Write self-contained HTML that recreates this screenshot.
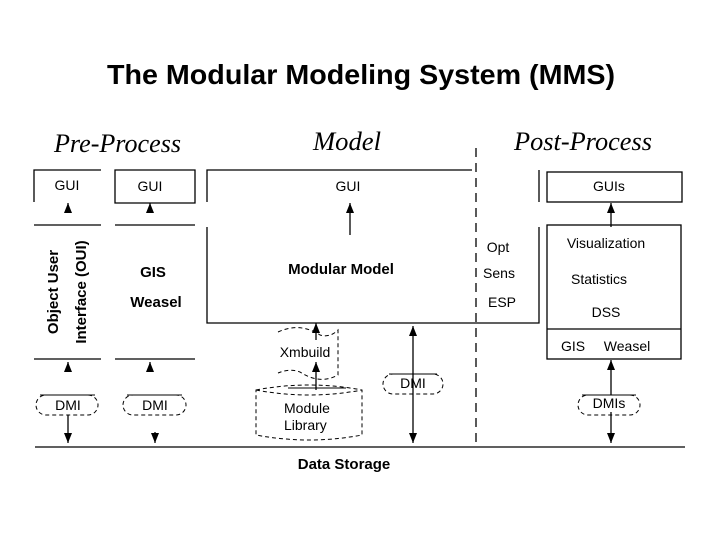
<!DOCTYPE html>
<html><head><meta charset="utf-8"><style>body{margin:0;background:#fff}svg{display:block}</style></head><body>
<svg width="720" height="540" viewBox="0 0 720 540" xmlns="http://www.w3.org/2000/svg" font-family="Liberation Sans, sans-serif">
<defs>
<marker id="a" markerWidth="10" markerHeight="8" refX="10" refY="4" orient="auto-start-reverse" markerUnits="userSpaceOnUse" viewBox="0 0 10 8"><path d="M0,0 L10,4 L0,8 Z" fill="#000"/></marker>
</defs>
<rect width="720" height="540" fill="#fff"/>
<text x="361" y="84" font-size="28" font-weight="bold" text-anchor="middle" textLength="508" lengthAdjust="spacingAndGlyphs">The Modular Modeling System (MMS)</text>
<g font-family="Liberation Serif, serif" font-style="italic" font-size="26">
<text x="54" y="152" textLength="127" lengthAdjust="spacingAndGlyphs">Pre-Process</text>
<text x="313" y="150" textLength="68" lengthAdjust="spacingAndGlyphs">Model</text>
<text x="514" y="150" textLength="138" lengthAdjust="spacingAndGlyphs">Post-Process</text>
</g>
<g stroke="#000" stroke-width="1.3" fill="none">
<path d="M34,202 V170 H101"/>
<path d="M115,170 H195 V203 H115 Z"/>
<path d="M34,225 H101 M115,225 H195 M34,359 H101 M115,359 H195"/>
<path d="M207,202 V170 H472"/>
<path d="M539,170 V202"/>
<path d="M207,227 V323 H539 V227"/>
<line x1="476" y1="148" x2="476" y2="447" stroke-dasharray="9,6"/>
<rect x="547" y="172" width="135" height="30"/>
<rect x="547" y="225" width="134" height="134"/>
<line x1="547" y1="329" x2="681" y2="329"/>
<line x1="35" y1="447" x2="685" y2="447"/>
<line x1="68" y1="213" x2="68" y2="203" marker-end="url(#a)"/>
<line x1="150" y1="213" x2="150" y2="203" marker-end="url(#a)"/>
<line x1="68" y1="372" x2="68" y2="362" marker-end="url(#a)"/>
<line x1="150" y1="372" x2="150" y2="362" marker-end="url(#a)"/>
<line x1="68" y1="415" x2="68" y2="443" marker-end="url(#a)"/>
<line x1="155" y1="432" x2="155" y2="443" marker-end="url(#a)"/>
<line x1="350" y1="235" x2="350" y2="203" marker-end="url(#a)"/>
<line x1="316" y1="340" x2="316" y2="323" marker-end="url(#a)"/>
<line x1="316" y1="390" x2="316" y2="362" marker-end="url(#a)"/>
<line x1="413" y1="326" x2="413" y2="443" marker-start="url(#a)" marker-end="url(#a)"/>
<line x1="611" y1="227" x2="611" y2="203" marker-end="url(#a)"/>
<line x1="611" y1="395" x2="611" y2="360" marker-end="url(#a)"/>
<line x1="611" y1="412" x2="611" y2="443" marker-end="url(#a)"/>
<g stroke-dasharray="4,3" stroke-width="1">
<rect x="36" y="395" width="62" height="20" rx="10"/>
<rect x="123" y="395" width="63" height="20" rx="10"/>
<rect x="383" y="374" width="60" height="20" rx="10"/>
<rect x="578" y="395" width="62" height="20" rx="10"/>
<path d="M278,332 Q300,322 320,335 Q330,338 338,330 V375 Q320,385 300,372 Q290,368 278,373"/>
<path d="M256,390 Q309,380 362,390 V435 Q309,445 256,435 Z"/>
<path d="M256,390 Q309,400 362,390"/>
</g>
<path d="M40,395 H95 M127,395 H182 M389,374 H437 M582,395 H636 M288,388 H346" stroke-width="1"/>
</g>
<g font-size="14" text-anchor="middle">
<text x="67" y="190">GUI</text>
<text x="150" y="191">GUI</text>
<text x="348" y="191">GUI</text>
<text x="609" y="191">GUIs</text>
<text x="68" y="410">DMI</text>
<text x="155" y="410">DMI</text>
<text x="413" y="388">DMI</text>
<text x="609" y="408">DMIs</text>
<text x="305" y="357">Xmbuild</text>
<text x="284" y="413" text-anchor="start">Module</text>
<text x="284" y="430" text-anchor="start">Library</text>
<text x="498" y="252">Opt</text>
<text x="499" y="278">Sens</text>
<text x="502" y="307">ESP</text>
<text x="606" y="248">Visualization</text>
<text x="599" y="284">Statistics</text>
<text x="606" y="317">DSS</text>
<text x="573" y="351">GIS</text>
<text x="627" y="351">Weasel</text>
</g>
<g font-size="15" font-weight="bold" text-anchor="middle">
<text x="153" y="277">GIS</text>
<text x="156" y="307">Weasel</text>
<text x="341" y="274">Modular Model</text>
<text x="344" y="469">Data Storage</text>
<text transform="translate(58,292) rotate(-90)">Object User</text>
<text transform="translate(86,292) rotate(-90)">Interface (OUI)</text>
</g>
</svg>
</body></html>
